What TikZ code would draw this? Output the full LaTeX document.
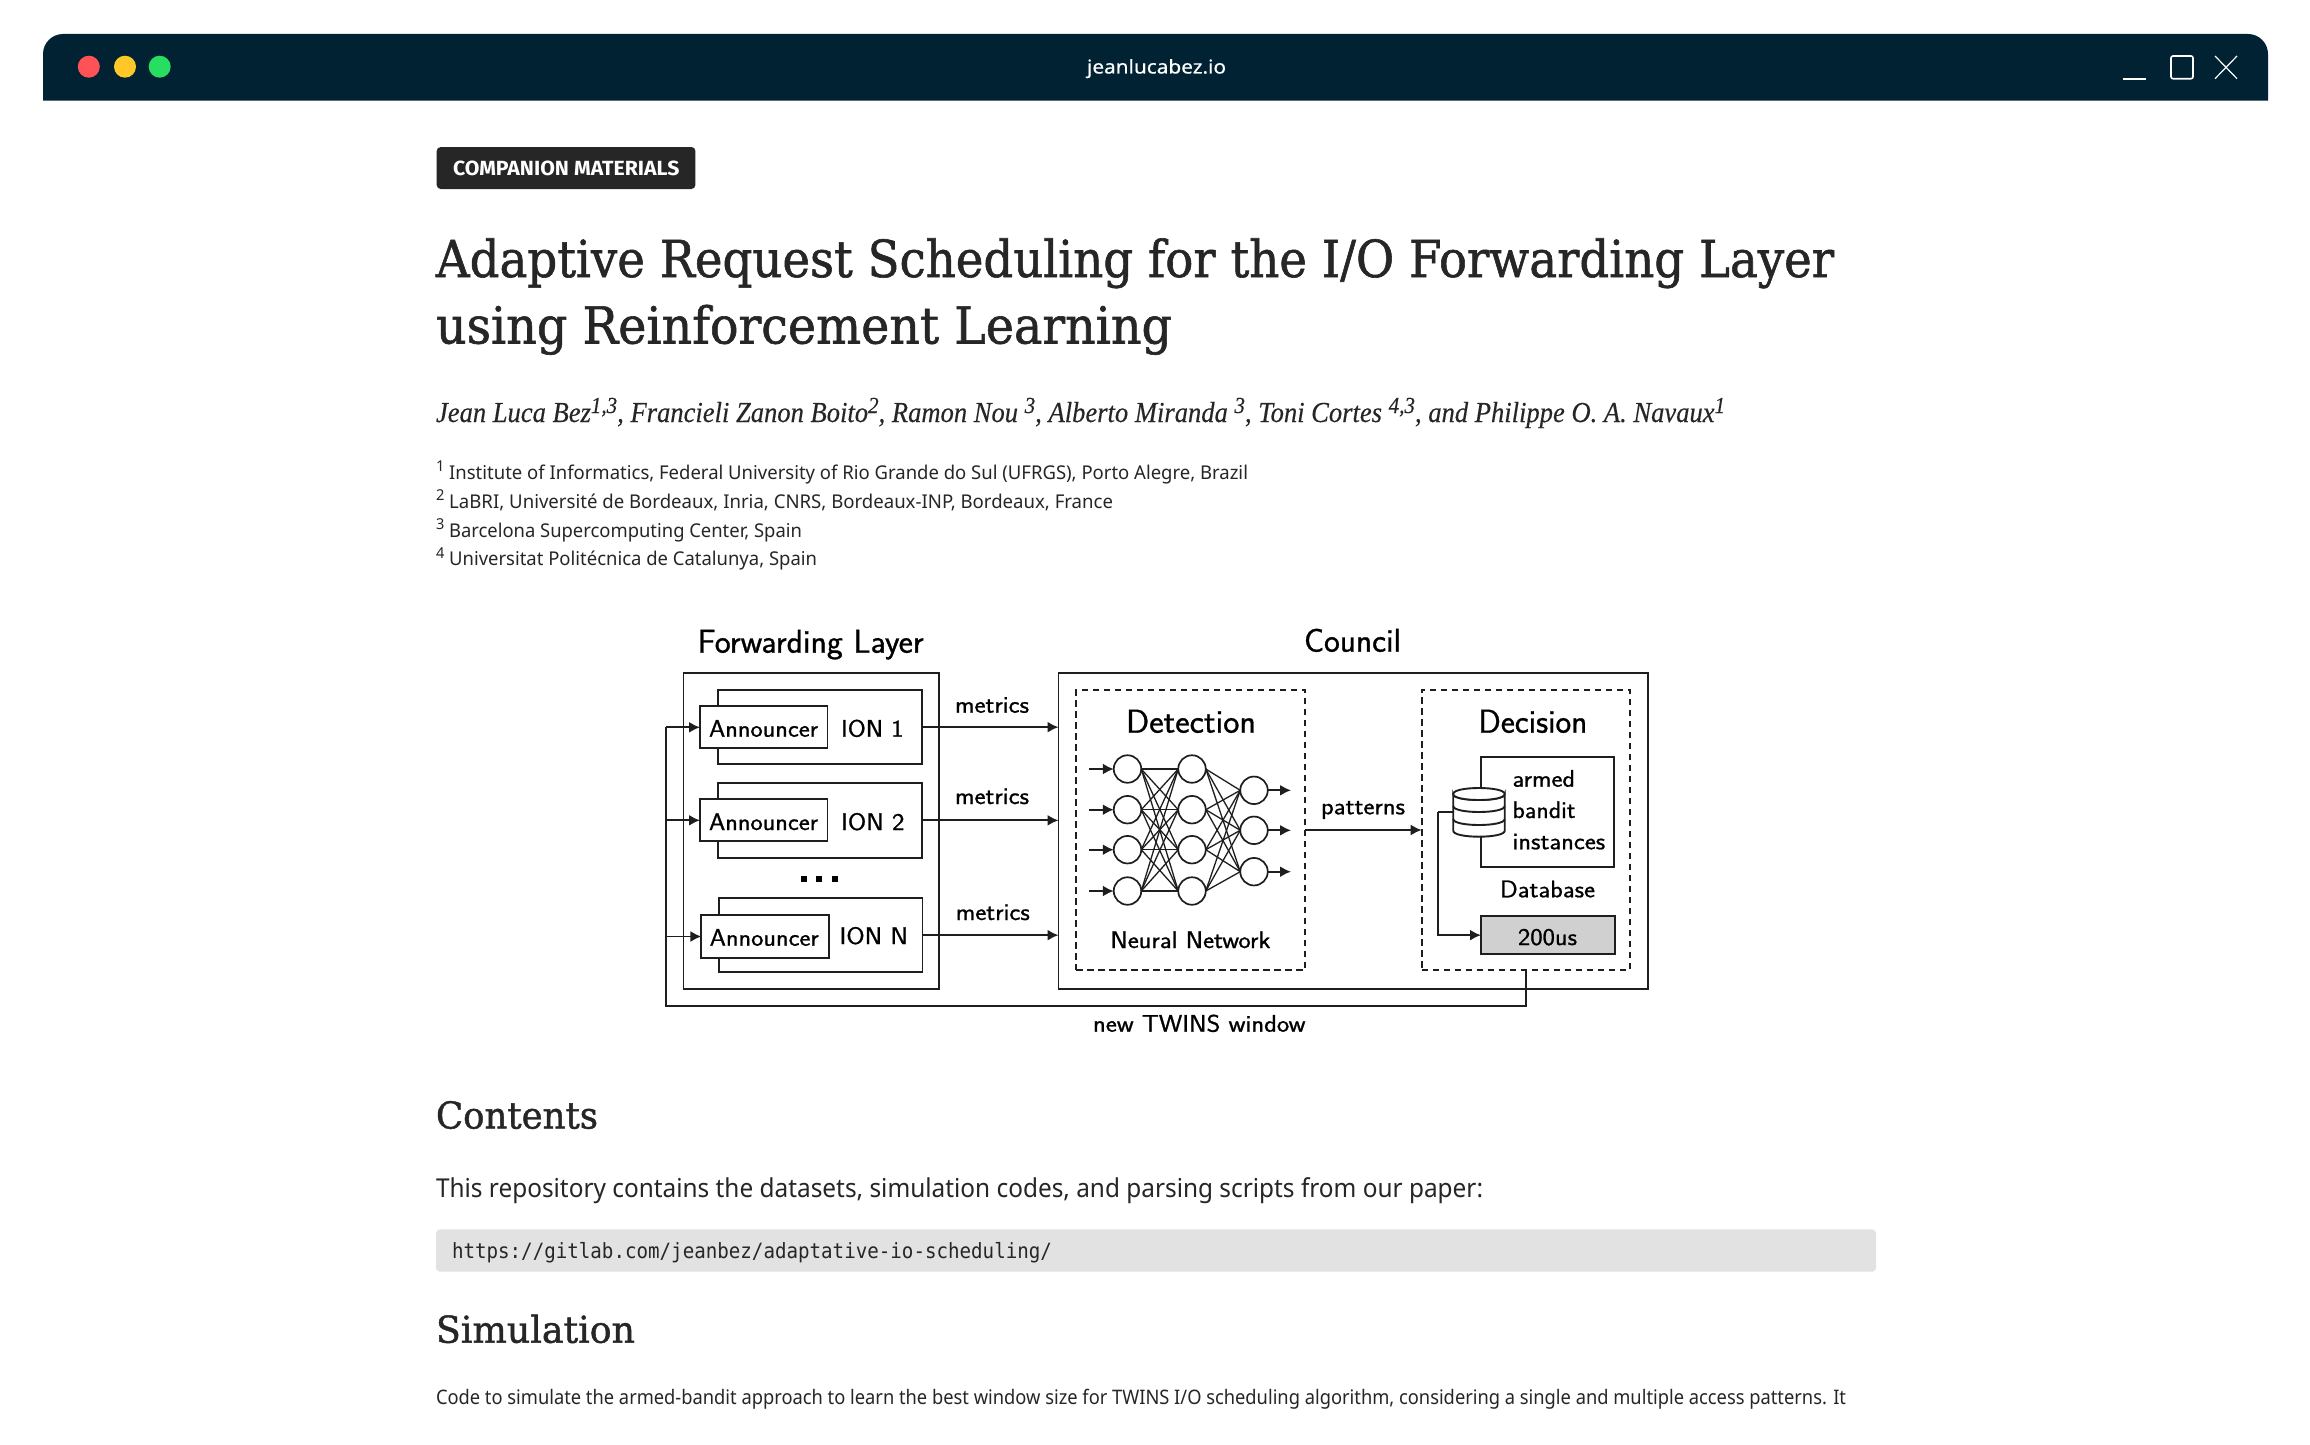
\documentclass[tikz,border=0pt]{standalone}
\usepackage{fontspec}
\usepackage{graphicx}
\usetikzlibrary{arrows.meta}
\newfontfamily\ttlf[FakeBold=1.2]{DejaVu Serif}
\newfontfamily\authf[FakeBold=0.3]{Liberation Serif}
\newfontfamily\bodyf{Noto Sans}
\newfontfamily\urlf[FakeBold=0.5]{Noto Sans}
\newfontfamily\tagf{Fira Sans}
\newfontfamily\codef{DejaVu Sans Mono}
\newfontfamily\dgf[FakeBold=0.9]{Latin Modern Sans}
\newcommand\fitw[2]{\resizebox{#1pt}{\height}{#2}}
\newcommand\fs[1]{\fontsize{#1}{#1}\selectfont}
\newcommand\asup[1]{\raisebox{9pt}{\fs{23}#1}}
\newcommand\bsup[1]{\raisebox{7.5pt}{\fs{15}#1}}
\definecolor{barc}{HTML}{012233}
\definecolor{ink}{HTML}{262626}
\definecolor{ln}{HTML}{1E1E1E}
\tikzset{
  txt/.style={anchor=base west,inner sep=0pt,outer sep=0pt,text=ink},
  dg/.style={anchor=base west,inner sep=0pt,outer sep=0pt,text=black,font=\dgf\fs{#1}},
  dg/.default=24,
  rect/.style={draw=ln,line width=1.9pt,inner sep=0pt,outer sep=0pt,fill=white},
  dashbox/.style={rect,dash pattern=on 6.5pt off 4.5pt},
  conn/.style={draw=ln,line width=1.9pt},
  arr/.style={conn,-{Latex[length=11pt,width=11pt]}},
  neuron/.style={circle,draw=ln,line width=1.7pt,minimum size=27.5pt,inner sep=0pt,outer sep=0pt},
  syn/.style={draw=ln,line width=1.3pt},
  tl/.style={circle,inner sep=0pt,outer sep=0pt,minimum size=22pt},
  icon/.style={draw=white,line width=1.2pt},
}
\newcommand\bx[6][]{\node[rect,#1,anchor=north west,minimum width=\dimexpr#5pt-#3pt\relax,minimum height=\dimexpr#6pt-#4pt\relax] (#2) at (#3,#4) {};}
\begin{document}
\begin{tikzpicture}[x=1pt,y=-1pt]
\useasboundingbox (0,0) rectangle (2310,1445);
\fill[white] (0,0) rectangle (2310,1445);
% window bar
\fill[barc] (43,100.7) [rounded corners=20pt] -- (43,34) -- (2268,34) [sharp corners] -- (2268,100.7) -- cycle;
\node[tl,fill={rgb,255:red,255;green,82;blue,87}] (red) at (88.8,66.7) {};
\node[tl,fill={rgb,255:red,255;green,199;blue,39}] (yel) at (125,66.7) {};
\node[tl,fill={rgb,255:red,39;green,222;blue,97}] (grn) at (159.7,66.7) {};
\node[txt,text=white,font=\urlf\fs{19}] (url) at (1087,73.5) {\fitw{139}{jeanlucabez.io}};
\draw[icon,line width=1.6pt] (2123,78.7) -- (2146,78.7);
\draw[icon,line width=1.6pt,rounded corners=2pt] (2171,56) rectangle (2193,78.7);
\draw[icon] (2215,56) -- (2237,78.7) (2237,56) -- (2215,78.7);
% tag
\fill[ink,rounded corners=4pt] (436.7,147) rectangle (695.4,189);
\node[txt,text=white,font=\tagf\bfseries\fs{20.5}] (tag) at (453,175) {\fitw{226.5}{COMPANION MATERIALS}};
% title
\node[txt,font=\ttlf\fs{51}] (t1) at (436,277) {\fitw{1398}{Adaptive Request Scheduling for the I/O Forwarding Layer}};
\node[txt,font=\ttlf\fs{51}] (t2) at (436,343.5) {\fitw{736}{using Reinforcement Learning}};
% authors
\node[txt,font=\authf\itshape\fs{29}] (auth) at (436,422) {\fitw{1289}{Jean Luca Bez\asup{1,3}, Francieli Zanon Boito\asup{2}, Ramon Nou \asup{3}, Alberto Miranda \asup{3}, Toni Cortes \asup{4,3}, and Philippe O. A. Navaux\asup{1}}};
% affiliations
\node[txt,font=\bodyf\fs{19}] (a1) at (436,479) {\fitw{812}{\bsup{1} Institute of Informatics, Federal University of Rio Grande do Sul (UFRGS), Porto Alegre, Brazil}};
\node[txt,font=\bodyf\fs{19}] (a2) at (436,508) {\fitw{677}{\bsup{2} LaBRI, Université de Bordeaux, Inria, CNRS, Bordeaux-INP, Bordeaux, France}};
\node[txt,font=\bodyf\fs{19}] (a3) at (436,537) {\fitw{366}{\bsup{3} Barcelona Supercomputing Center, Spain}};
\node[txt,font=\bodyf\fs{19}] (a4) at (436,565.5) {\fitw{381}{\bsup{4} Universitat Politécnica de Catalunya, Spain}};
% diagram: containers
\bx{fl}{683.5}{673}{938.6}{988.7}
\bx{council}{1058.5}{673}{1648}{988.7}
\bx[dashbox]{detect}{1076}{690}{1305}{970}
\bx[dashbox]{decide}{1421.7}{690}{1630}{970}
\bx{ion1}{718}{690}{922}{764.3}
\bx{ion2}{718}{783}{922}{857.7}
\bx{ionn}{718.6}{898}{922.5}{972.3}
\bx{ann1}{700}{706.3}{827.5}{748.3}
\bx{ann2}{700}{799.3}{827.5}{841.3}
\bx{annn}{701.4}{915.3}{828.6}{957.7}
\bx{dbbox}{1481}{756.7}{1614}{867}
\bx[fill={rgb,255:red,208;green,208;blue,208}]{wsize}{1481}{916}{1615}{954.3}
% titles
\node[dg=33] (hfl) at (697.6,652.7) {\fitw{226}{Forwarding Layer}};
\node[dg=33] (hco) at (1304,651.7) {\fitw{97}{Council}};
\node[dg=33] (hde) at (1126,732.7) {\fitw{130}{Detection}};
\node[dg=33] (hdc) at (1478.3,732.7) {\fitw{109}{Decision}};
% announcers
\node[dg] (la1) at (709,736.7) {\fitw{109}{Announcer}};
\node[dg] (la2) at (709,830) {\fitw{109}{Announcer}};
\node[dg] (la3) at (709.7,945.7) {\fitw{109}{Announcer}};
\node[dg] (li1) at (841,736.7) {\fitw{62.5}{ION 1}};
\node[dg] (li2) at (841,830) {\fitw{63.5}{ION 2}};
\node[dg] (li3) at (839.5,944) {\fitw{68.5}{ION N}};
\node[dg] (m1) at (955,712.7) {\fitw{74}{metrics}};
\node[dg] (m2) at (955,804) {\fitw{74}{metrics}};
\node[dg] (m3) at (955.8,920) {\fitw{74}{metrics}};
\node[dg] (lpat) at (1321,814.3) {\fitw{84}{patterns}};
\node[dg] (lnn) at (1110.4,948) {\fitw{160}{Neural Network}};
\node[dg] (ltw) at (1093,1031.7) {\fitw{212.5}{new TWINS window}};
\node[dg] (l1) at (1512.5,786.7) {\fitw{62.5}{armed}};
\node[dg] (l2) at (1512.5,818) {\fitw{63}{bandit}};
\node[dg] (l3) at (1512.5,849.3) {\fitw{92.7}{instances}};
\node[dg] (ldb) at (1500,897.3) {\fitw{95}{Database}};
\node[dg] (l200) at (1518,945) {\fitw{59}{200us}};
% dots
\foreach \n/\x in {d1/804,d2/819,d3/835}{\node[fill=black,inner sep=0pt,minimum size=6.5pt] (\n) at (\x,879) {};}
% connectors
\foreach \s in {ion1,ion2,ionn}{\draw[arr] (\s.east) -- (\s.east -| council.west);}
\draw[arr] (detect.east) -- (decide.west);
\coordinate (fbstart) at (1526,970);
\coordinate (fbright) at (1526,1005.7);
\coordinate (fbleft) at (665.7,1005.7);
\coordinate (fbtop) at (665.7,727.3);
\draw[conn] (fbstart) -- (fbright) -- (fbleft) -- (fbtop);
\foreach \s in {ann1,ann2,annn}{\draw[arr] (\s.west -| fbtop) -- (\s.west);}
% database cylinder
\node[inner sep=0pt,outer sep=0pt,minimum width=51.7pt,minimum height=49pt] (db) at (1478.9,812.2) {};
\draw[conn,fill=white] (1453.2,794) .. controls (1453.2,802) and (1504.7,802) .. (1504.7,794) -- (1504.7,830.7) .. controls (1504.7,838.7) and (1453.2,838.7) .. (1453.2,830.7) -- cycle;
\draw[conn,fill=white] (1453.2,794) .. controls (1453.2,802) and (1504.7,802) .. (1504.7,794) .. controls (1504.7,786) and (1453.2,786) .. (1453.2,794) -- cycle;
\draw[conn] (1453.2,806) .. controls (1453.2,814) and (1504.7,814) .. (1504.7,806);
\draw[conn] (1453.2,819) .. controls (1453.2,827) and (1504.7,827) .. (1504.7,819);
\coordinate (dbturn) at (1438,812.2);
\draw[conn] (db.west) -- (dbturn);
\draw[arr] (dbturn) |- (wsize.west);
% neural network
\foreach \n/\y in {1/769,2/809.7,3/849.7,4/891}{
  \node[neuron] (a\n) at (1127.5,\y) {};
  \node[neuron] (b\n) at (1192,\y) {};
  \coordinate (in\n) at (1089,\y);
  \draw[arr] (in\n) -- (a\n.west);
}
\foreach \n/\y in {1/790.3,2/830.3,3/871.7}{
  \node[neuron] (c\n) at (1254,\y) {};
  \coordinate (out\n) at (1291,\y);
  \draw[arr] (c\n.east) -- (out\n);
}
\foreach \i in {1,2,3,4}{
  \foreach \j in {1,2,3,4}{\draw[syn] (a\i.east) -- (b\j.west);}
  \foreach \j in {1,2,3}{\draw[syn] (b\i.east) -- (c\j.west);}
}
% lower text
\node[txt,font=\ttlf\fs{37}] (h1) at (436,1128.5) {\fitw{162}{Contents}};
\node[txt,font=\bodyf\fs{26}] (p1) at (436,1197) {\fitw{1047}{This repository contains the datasets, simulation codes, and parsing scripts from our paper:}};
\fill[black!11.5,rounded corners=4pt] (436,1229.3) rectangle (1876,1271.7);
\node[txt,font=\codef\fs{21}] (code) at (452,1258.3) {\fitw{600}{https://gitlab.com/jeanbez/adaptative-io-scheduling/}};
\node[txt,font=\ttlf\fs{37}] (h2) at (436,1342.7) {\fitw{199}{Simulation}};
\node[txt,font=\bodyf\fs{20}] (p2) at (436,1404) {\fitw{1410}{Code to simulate the armed-bandit approach to learn the best window size for TWINS I/O scheduling algorithm, considering a single and multiple access patterns. It}};
\end{tikzpicture}
\end{document}
